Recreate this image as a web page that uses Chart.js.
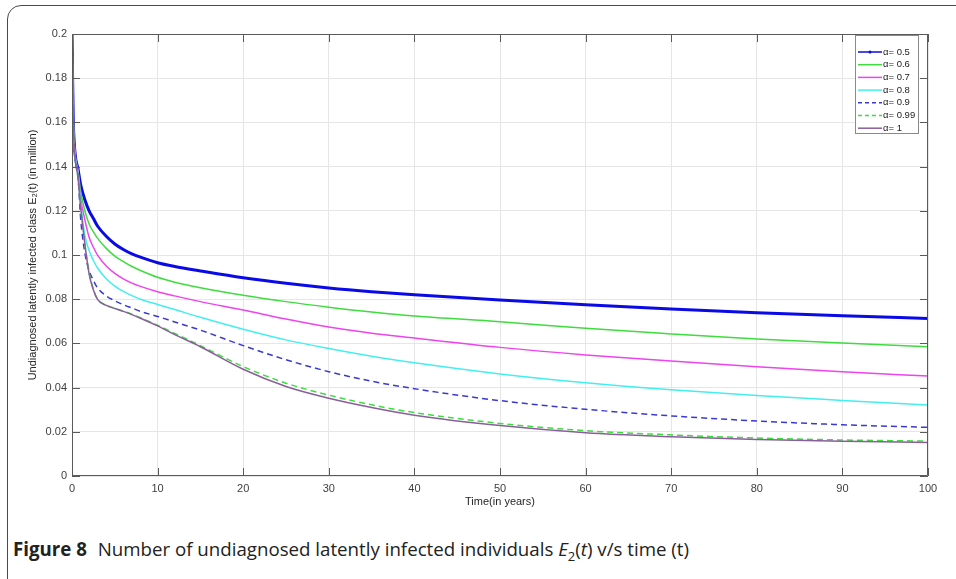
<!DOCTYPE html>
<html>
<head>
<meta charset="utf-8">
<script src="https://cdn.jsdelivr.net/npm/chart.js@4/dist/chart.umd.min.js"></script>
<style>
  body { margin: 0; background: #fff; width: 956px; height: 579px; overflow: hidden; position: relative; }
  #frame { position: absolute; left: 7px; top: 5px; width: 1000px; height: 620px; border: 1.5px solid #4a4a4a; border-radius: 14px; }
  #wrap { position: absolute; left: 0; top: 0; width: 956px; height: 520px; }
  #caption { position: absolute; left: 13px; top: 536px; font-family: "Open Sans", sans-serif; font-size: 18.7px; color: #222; white-space: nowrap; }
  #caption b { font-weight: bold; margin-right: 6px; }
</style>
</head>
<body>
<div id="frame"></div>
<div id="wrap"><canvas id="mainGraph"></canvas></div>
<div id="caption"><b>Figure 8</b> Number of undiagnosed latently infected individuals <i>E</i><sub style="font-size:13px">2</sub>(<i>t</i>) v/s time (t)</div>
<script>
// time points (years)
var timeYears = [0, 0.15, 0.7, 1, 1.5, 2, 2.5, 3, 4, 5, 6, 7, 8, 10, 12, 15, 20, 25, 30, 35, 40, 50, 60, 70, 80, 90, 100]

// E2(t) in million, one array per alpha
var alpha05 = [0.2, 0.16, 0.139, 0.132, 0.125, 0.12, 0.1165, 0.113, 0.1085, 0.105, 0.1025, 0.1005, 0.099, 0.0965, 0.0948, 0.0928, 0.0897, 0.0872, 0.0851, 0.0834, 0.082, 0.0796, 0.0775, 0.0756, 0.0739, 0.0725, 0.0713]
var alpha06 = [0.2, 0.16, 0.138, 0.129, 0.12, 0.114, 0.1105, 0.1075, 0.103, 0.0995, 0.097, 0.0948, 0.093, 0.0899, 0.0877, 0.0852, 0.0818, 0.0789, 0.0764, 0.0742, 0.0724, 0.0698, 0.0668, 0.0643, 0.062, 0.0602, 0.0585]
var alpha07 = [0.2, 0.16, 0.138, 0.126, 0.116, 0.108, 0.1035, 0.0998, 0.095, 0.0917, 0.0892, 0.0873, 0.0858, 0.0834, 0.0815, 0.0789, 0.0751, 0.071, 0.0674, 0.0646, 0.0624, 0.0582, 0.0548, 0.052, 0.0494, 0.0472, 0.0452]
var alpha08 = [0.2, 0.16, 0.137, 0.124, 0.109, 0.102, 0.0975, 0.094, 0.0893, 0.0859, 0.0835, 0.0816, 0.08, 0.0776, 0.0753, 0.0718, 0.0664, 0.0616, 0.0577, 0.0542, 0.0512, 0.0462, 0.0422, 0.039, 0.0364, 0.0342, 0.0321]
var alpha09 = [0.2, 0.16, 0.136, 0.117, 0.101, 0.093, 0.0885, 0.085, 0.0815, 0.0793, 0.0775, 0.076, 0.0745, 0.0722, 0.0697, 0.066, 0.059, 0.0526, 0.0472, 0.0429, 0.0395, 0.0341, 0.0302, 0.0272, 0.0249, 0.0232, 0.022]
var alpha099 = [0.2, 0.16, 0.135, 0.122, 0.105, 0.092, 0.0845, 0.08, 0.0773, 0.0759, 0.0746, 0.0732, 0.0716, 0.0682, 0.0645, 0.059, 0.0495, 0.042, 0.0366, 0.0322, 0.0287, 0.0238, 0.0205, 0.0186, 0.0172, 0.0163, 0.0158]
var alpha1 = [0.2, 0.16, 0.135, 0.122, 0.105, 0.0915, 0.0842, 0.0798, 0.0772, 0.0758, 0.0745, 0.073, 0.0714, 0.0679, 0.064, 0.0585, 0.0483, 0.0405, 0.0352, 0.031, 0.0275, 0.0228, 0.0196, 0.0178, 0.0165, 0.0157, 0.0152]

var seriesLabels = ['α= 0.5', 'α= 0.6', 'α= 0.7', 'α= 0.8', 'α= 0.9', 'α= 0.99', 'α= 1']
var seriesValues = [alpha05, alpha06, alpha07, alpha08, alpha09, alpha099, alpha1]
var seriesColors = ['#0a0ae6', '#3fdc3f', '#ee44ee', '#44eeee', '#3a3acf', '#3fdc3f', '#8a5e9c']
var seriesWidths = [3, 1.5, 1.5, 1.5, 1.5, 1.5, 1.5]
var seriesDash = [[], [], [], [], [6, 4], [6, 4], []]

var xTicks = [0, 10, 20, 30, 40, 50, 60, 70, 80, 90, 100]
var yTicks = [0, 0.02, 0.04, 0.06, 0.08, 0.1, 0.12, 0.14, 0.16, 0.18, 0.2]

function makeDataset(i) {
    var pts = []
    for (var k = 0; k < timeYears.length; k++) {
        pts.push({x: timeYears[k], y: seriesValues[i][k]})
    }
    return {
        label: seriesLabels[i],
        data: pts,
        borderColor: seriesColors[i],
        backgroundColor: seriesColors[i],
        borderWidth: seriesWidths[i],
        borderDash: seriesDash[i],
        pointRadius: 0,
        fill: false,
        cubicInterpolationMode: 'monotone',
        order: 6 - i
    }
}

var datasets = []
for (var i = 0; i < seriesLabels.length; i++) datasets.push(makeDataset(i))

// axes box with inward ticks + legend box, matlab style
var matlabBox = {
    id: 'matlabBox',
    afterDraw: function(chart) {
        var c = chart.ctx, a = chart.chartArea
        var xs = chart.scales.x, ys = chart.scales.y
        c.save()
        c.strokeStyle = '#5a5a5a'
        c.lineWidth = 1
        c.beginPath()
        c.rect(a.left + 0.5, a.top + 0.5, a.right - a.left - 1, a.bottom - a.top - 1)
        c.stroke()
        c.beginPath()
        xTicks.forEach(function(v) {
            var px = Math.round(xs.getPixelForValue(v)) + 0.5
            c.moveTo(px, a.bottom); c.lineTo(px, a.bottom - 8)
            c.moveTo(px, a.top); c.lineTo(px, a.top + 8)
        })
        yTicks.forEach(function(v) {
            var py = Math.round(ys.getPixelForValue(v)) + 0.5
            c.moveTo(a.left, py); c.lineTo(a.left + 8, py)
            c.moveTo(a.right, py); c.lineTo(a.right - 8, py)
        })
        c.stroke()

        // legend
        var lx = a.right - 73, ly = a.top + 1, lw = 63, lh = 98
        c.fillStyle = '#fff'
        c.fillRect(lx, ly, lw, lh)
        c.strokeStyle = '#8a8a8a'
        c.strokeRect(lx + 0.5, ly + 0.5, lw, lh)
        c.font = '9.5px "Liberation Sans", Arial, sans-serif'
        c.textBaseline = 'middle'
        for (var i = 0; i < seriesLabels.length; i++) {
            var yy = ly + 17 + i * 12.7
            c.strokeStyle = seriesColors[i]
            c.lineWidth = 1.5
            c.setLineDash(i == 4 || i == 5 ? [4, 3] : [])
            c.beginPath(); c.moveTo(lx + 3, yy); c.lineTo(lx + 27, yy); c.stroke()
            c.setLineDash([])
            if (i == 0) {
                c.fillStyle = seriesColors[0]
                c.beginPath(); c.arc(lx + 15, yy, 1.5, 0, 2 * Math.PI); c.fill()
            }
            c.fillStyle = '#222'
            c.fillText(seriesLabels[i], lx + 28, yy)
        }
        c.restore()
    }
}

var tickFont = { family: '"Liberation Sans", Arial', size: 11 }

var ctx = document.getElementById('mainGraph').getContext('2d');

var chart = new Chart(ctx, {
    type: 'line',
    data: { datasets: datasets },
    options: {
        responsive: true,
        maintainAspectRatio: false,
        animation: false,
        layout: { padding: { left: 0, right: 28, top: 34, bottom: 0 } },
        plugins: { legend: { display: false }, tooltip: { enabled: false } },
        scales: {
            x: {
                type: 'linear', min: 0, max: 100,
                afterBuildTicks: function(s) { s.ticks = xTicks.map(function(v) { return {value: v} }) },
                afterFit: function(s) { s.height = 44 },
                grid: { color: '#e6e6e6', drawTicks: false },
                border: { display: false },
                ticks: { padding: 6, color: '#404040', font: tickFont },
                title: { display: true, text: 'Time(in years)', color: '#262626', padding: { bottom: 11 }, font: tickFont }
            },
            y: {
                type: 'linear', min: 0, max: 0.2,
                afterBuildTicks: function(s) { s.ticks = yTicks.map(function(v) { return {value: v} }) },
                afterFit: function(s) { s.width = 72 },
                grid: { color: '#e6e6e6', drawTicks: false },
                border: { display: false },
                ticks: { padding: 5, color: '#404040', font: tickFont,
                    callback: function(v) { return String(Number(v.toFixed(2))) } },
                title: { display: true, text: 'Undiagnosed latently infected class E₂(t) (in million)', color: '#262626', padding: { top: 26 }, font: tickFont }
            }
        }
    },
    plugins: [matlabBox]
});
</script>
</body>
</html>
